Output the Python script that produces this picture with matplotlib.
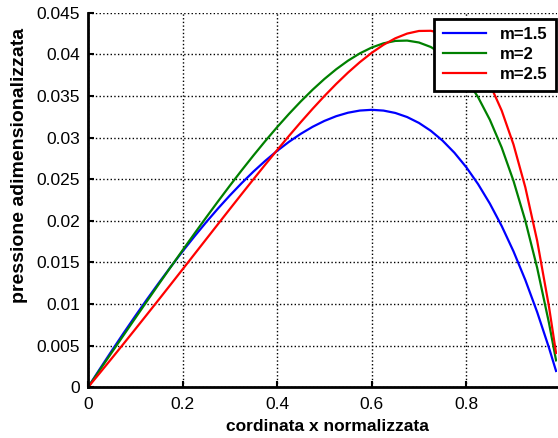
import matplotlib
matplotlib.use('Agg')
import matplotlib.pyplot as plt

plt.rcParams['font.family'] = ['Liberation Sans', 'DejaVu Sans']

x = [0, 0.025, 0.05, 0.075, 0.1, 0.125, 0.15, 0.175, 0.2, 0.225, 0.25,
     0.275, 0.3, 0.325, 0.35, 0.375, 0.4, 0.425, 0.45, 0.475, 0.5,
     0.525, 0.55, 0.575, 0.6, 0.625, 0.65, 0.675, 0.7, 0.725, 0.75,
     0.775, 0.8, 0.825, 0.85, 0.875, 0.9, 0.925, 0.95, 0.975, 0.99]

p_m15 = [0, .002203, .004367, .006487, .008561, .010586, .012557, .014472,
         .016327, .018115, .019835, .021480, .023045, .024526, .025917,
         .027211, .028402, .029484, .030450, .031291, .032000, .032568,
         .032986, .033245, .033333, .033241, .032956, .032466, .031758,
         .030818, .029630, .028178, .026446, .024415, .022066, .019377,
         .016327, .012890, .009042, .004755, .001960]
p_m2 = [0, .002083, .004164, .006240, .008310, .010370, .012418, .014449,
        .016461, .018449, .020408, .022334, .024221, .026064, .027854,
        .029586, .031250, .032838, .034339, .035743, .037037, .038207,
        .039239, .040115, .040816, .041322, .041609, .041652, .041420,
        .040882, .040000, .038734, .037037, .034857, .032136, .028806,
        .024793, .020011, .014361, .007733, .003235]
p_m25 = [0, .001723, .003462, .005216, .006984, .008766, .010558, .012359,
         .014168, .015981, .017795, .019608, .021416, .023213, .024996,
         .026758, .028492, .030191, .031847, .033449, .034986, .036443,
         .037807, .039059, .040179, .041143, .041924, .042491, .042806,
         .042827, .042503, .041775, .040575, .038820, .036413, .033241,
         .029166, .024023, .017616, .009705, .004118]

labels = ['m=1.5', 'm=2', 'm=2.5']

fig = plt.figure(figsize=(5.58, 4.38), dpi=100)
ax = fig.add_axes([88 / 558, 1 - 387.3 / 438, 469 / 558, 374.6 / 438])

ax.plot(x, p_m15, color='blue', lw=1.6, label=labels[0])
ax.plot(x, p_m2, color=(0, 0.5, 0), lw=1.6, label=labels[1])
ax.plot(x, p_m25, color='red', lw=1.6, label=labels[2])

ax.set_xlim(0, 0.992)
ax.set_ylim(0, 0.045)
ax.set_xticks([0, 0.2, 0.4, 0.6, 0.8])
ax.set_xticklabels(['0', '0.2', '0.4', '0.6', '0.8'])
ax.set_yticks([i * 0.005 for i in range(10)])
ax.set_yticklabels(['0', '0.005', '0.01', '0.015', '0.02', '0.025',
                    '0.03', '0.035', '0.04', '0.045'])
ax.tick_params(direction='in', length=4, width=1.5, labelsize=12.5)
ax.tick_params(axis='x', pad=7)
ax.tick_params(axis='y', pad=5.5)
ax.grid(True, color='black', linestyle=':', linewidth=1)
for s in ['top', 'right']:
    ax.spines[s].set_visible(False)
for s in ['left', 'bottom']:
    ax.spines[s].set_linewidth(2)

ax.set_xlabel('cordinata x normalizzata', fontsize=12.5, fontweight='bold')
ax.set_ylabel('pressione adimensionalizzata', fontsize=14, fontweight='bold')
ax.xaxis.set_label_coords(327 / 558, 1 - 419 / 438, transform=fig.transFigure)
ax.yaxis.set_label_coords(28 / 558, 1 - 165 / 438, transform=fig.transFigure)

leg = ax.legend(loc='upper right', bbox_to_anchor=(556 / 558, 1 - 19 / 438),
                bbox_transform=fig.transFigure, fancybox=False, framealpha=1,
                edgecolor='black', borderaxespad=0, handlelength=2.6,
                handletextpad=0.85, labelspacing=0.3, borderpad=0.5,
                prop={'weight': 'bold', 'size': 12})
leg.get_frame().set_linewidth(2)

fig.savefig('out.png', dpi=100)
